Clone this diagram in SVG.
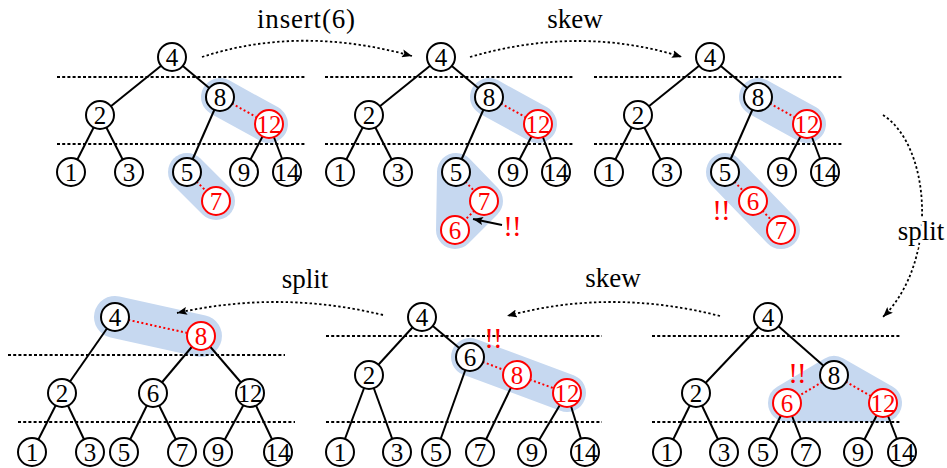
<svg xmlns="http://www.w3.org/2000/svg" width="947" height="468" viewBox="0 0 947 468" font-family="Liberation Serif, DejaVu Serif, serif">
<defs>
<style>
.node circle{fill:#fff;stroke:#000;stroke-width:2}
.node text{font-size:25px;text-anchor:middle;fill:#000}
.node.red circle{stroke:#f00}
.node.red text{fill:#f00}
.edge{stroke:#000;stroke-width:2;fill:none}
.redge{stroke:#f00;stroke-width:2;stroke-dasharray:2 2.5;fill:none}
.level{stroke:#000;stroke-width:2;stroke-dasharray:3 2.2;fill:none}
.hl{stroke:#c6d8f0;fill:#c6d8f0;stroke-width:38;stroke-linecap:round;stroke-linejoin:round}
.flow{stroke:#000;stroke-width:1.8;stroke-dasharray:2.4 2.4;fill:none;marker-end:url(#arr)}
.label{font-size:27px;text-anchor:middle;fill:#000}
.bang{font-size:29px;text-anchor:middle;fill:#f00;letter-spacing:-1px}
</style>
<marker id="arr" markerUnits="userSpaceOnUse" markerWidth="11" markerHeight="8" refX="10" refY="4" orient="auto">
<path d="M0,0 L10,4 L0,8 L2,4 z" fill="#000"/>
</marker>
</defs>
<rect width="947" height="468" fill="#fff"/>

<g id="highlights">
<line class="hl" x1="220" y1="97" x2="269" y2="124"/>
<line class="hl" x1="187" y1="172" x2="216" y2="201"/>
<line class="hl" x1="489" y1="97" x2="538" y2="124"/>
<polygon class="hl" points="456,172 484,201 455,230"/>
<line class="hl" x1="758" y1="97" x2="807" y2="124"/>
<line class="hl" x1="725" y1="172" x2="781" y2="230"/>
<line class="hl" x1="115" y1="317" x2="201" y2="336" style="stroke-width:42"/>
<line class="hl" x1="470" y1="357" x2="567" y2="393"/>
<polygon class="hl" points="787,403 834,375 883,403"/>
</g>

<g id="levels">
<line class="level" x1="57" y1="77" x2="305" y2="77"/>
<line class="level" x1="57" y1="144" x2="305" y2="144"/>
<line class="level" x1="325" y1="77" x2="573" y2="77"/>
<line class="level" x1="325" y1="144" x2="573" y2="144"/>
<line class="level" x1="594" y1="77" x2="842" y2="77"/>
<line class="level" x1="594" y1="144" x2="842" y2="144"/>
<line class="level" x1="8" y1="355" x2="285" y2="355"/>
<line class="level" x1="18" y1="422" x2="295" y2="422"/>
<line class="level" x1="326" y1="336" x2="602" y2="336"/>
<line class="level" x1="326" y1="422" x2="602" y2="422"/>
<line class="level" x1="652" y1="336" x2="900" y2="336"/>
<line class="level" x1="652" y1="422" x2="900" y2="422"/>
</g>

<g id="connectors">
<line class="edge" x1="172" y1="57" x2="100" y2="115"/>
<line class="edge" x1="172" y1="57" x2="220" y2="97"/>
<line class="edge" x1="100" y1="115" x2="71" y2="172"/>
<line class="edge" x1="100" y1="115" x2="129" y2="172"/>
<line class="edge" x1="220" y1="97" x2="187" y2="172"/>
<line class="redge" x1="220" y1="97" x2="269" y2="124"/>
<line class="edge" x1="269" y1="124" x2="244" y2="172"/>
<line class="edge" x1="269" y1="124" x2="287" y2="172"/>
<line class="redge" x1="187" y1="172" x2="216" y2="201"/>
<line class="edge" x1="441" y1="57" x2="369" y2="115"/>
<line class="edge" x1="441" y1="57" x2="489" y2="97"/>
<line class="edge" x1="369" y1="115" x2="340" y2="172"/>
<line class="edge" x1="369" y1="115" x2="398" y2="172"/>
<line class="edge" x1="489" y1="97" x2="456" y2="172"/>
<line class="redge" x1="489" y1="97" x2="538" y2="124"/>
<line class="edge" x1="538" y1="124" x2="513" y2="172"/>
<line class="edge" x1="538" y1="124" x2="556" y2="172"/>
<line class="redge" x1="456" y1="172" x2="484" y2="201"/>
<line class="redge" x1="484" y1="201" x2="455" y2="230"/>
<line class="edge" x1="710" y1="57" x2="638" y2="115"/>
<line class="edge" x1="710" y1="57" x2="758" y2="97"/>
<line class="edge" x1="638" y1="115" x2="609" y2="172"/>
<line class="edge" x1="638" y1="115" x2="667" y2="172"/>
<line class="edge" x1="758" y1="97" x2="725" y2="172"/>
<line class="redge" x1="758" y1="97" x2="807" y2="124"/>
<line class="edge" x1="807" y1="124" x2="782" y2="172"/>
<line class="edge" x1="807" y1="124" x2="825" y2="172"/>
<line class="redge" x1="725" y1="172" x2="753" y2="201"/>
<line class="redge" x1="753" y1="201" x2="781" y2="230"/>
<line class="redge" x1="115" y1="317" x2="201" y2="336"/>
<line class="edge" x1="115" y1="317" x2="62" y2="393"/>
<line class="edge" x1="201" y1="336" x2="153" y2="393"/>
<line class="edge" x1="201" y1="336" x2="250" y2="393"/>
<line class="edge" x1="62" y1="393" x2="32" y2="452"/>
<line class="edge" x1="62" y1="393" x2="90" y2="452"/>
<line class="edge" x1="153" y1="393" x2="124" y2="452"/>
<line class="edge" x1="153" y1="393" x2="182" y2="452"/>
<line class="edge" x1="250" y1="393" x2="218" y2="452"/>
<line class="edge" x1="250" y1="393" x2="278" y2="452"/>
<line class="edge" x1="422" y1="317" x2="369" y2="375"/>
<line class="edge" x1="422" y1="317" x2="470" y2="357"/>
<line class="edge" x1="369" y1="375" x2="340" y2="452"/>
<line class="edge" x1="369" y1="375" x2="397" y2="452"/>
<line class="edge" x1="470" y1="357" x2="436" y2="452"/>
<line class="redge" x1="470" y1="357" x2="517" y2="375"/>
<line class="edge" x1="517" y1="375" x2="480" y2="452"/>
<line class="redge" x1="517" y1="375" x2="567" y2="393"/>
<line class="edge" x1="567" y1="393" x2="532" y2="452"/>
<line class="edge" x1="567" y1="393" x2="585" y2="452"/>
<line class="edge" x1="768" y1="317" x2="696" y2="393"/>
<line class="edge" x1="768" y1="317" x2="834" y2="375"/>
<line class="edge" x1="696" y1="393" x2="667" y2="452"/>
<line class="edge" x1="696" y1="393" x2="724" y2="452"/>
<line class="redge" x1="834" y1="375" x2="787" y2="403"/>
<line class="redge" x1="834" y1="375" x2="883" y2="403"/>
<line class="edge" x1="787" y1="403" x2="763" y2="452"/>
<line class="edge" x1="787" y1="403" x2="806" y2="452"/>
<line class="edge" x1="883" y1="403" x2="858" y2="452"/>
<line class="edge" x1="883" y1="403" x2="902" y2="452"/>
<path class="flow" d="M202,57 Q300,25 412,56"/>
<path class="flow" d="M470,57 Q580,25 682,57"/>
<path class="flow" d="M883,115 C930,145 940,260 883,317"/>
<path class="flow" d="M720,316 Q610,288 507,316"/>
<path class="flow" d="M383,315 Q280,290 177,313"/>
<line x1="502" y1="225" x2="473" y2="219" stroke="#000" stroke-width="2" marker-end="url(#arr)"/>
</g>

<g id="p1-n4" class="node"><circle cx="172" cy="57" r="14"/><text x="172" y="66">4</text></g>
<g id="p1-n2" class="node"><circle cx="100" cy="115" r="14"/><text x="100" y="124">2</text></g>
<g id="p1-n8" class="node"><circle cx="220" cy="97" r="14"/><text x="220" y="106">8</text></g>
<g id="p1-n12" class="node red"><circle cx="269" cy="124" r="14"/><text x="269" y="133">12</text></g>
<g id="p1-n1" class="node"><circle cx="71" cy="172" r="14"/><text x="71" y="181">1</text></g>
<g id="p1-n3" class="node"><circle cx="129" cy="172" r="14"/><text x="129" y="181">3</text></g>
<g id="p1-n5" class="node"><circle cx="187" cy="172" r="14"/><text x="187" y="181">5</text></g>
<g id="p1-n9" class="node"><circle cx="244" cy="172" r="14"/><text x="244" y="181">9</text></g>
<g id="p1-n14" class="node"><circle cx="287" cy="172" r="14"/><text x="287" y="181">14</text></g>
<g id="p1-n7" class="node red"><circle cx="216" cy="201" r="14"/><text x="216" y="210">7</text></g>

<g id="p2-n4" class="node"><circle cx="441" cy="57" r="14"/><text x="441" y="66">4</text></g>
<g id="p2-n2" class="node"><circle cx="369" cy="115" r="14"/><text x="369" y="124">2</text></g>
<g id="p2-n8" class="node"><circle cx="489" cy="97" r="14"/><text x="489" y="106">8</text></g>
<g id="p2-n12" class="node red"><circle cx="538" cy="124" r="14"/><text x="538" y="133">12</text></g>
<g id="p2-n1" class="node"><circle cx="340" cy="172" r="14"/><text x="340" y="181">1</text></g>
<g id="p2-n3" class="node"><circle cx="398" cy="172" r="14"/><text x="398" y="181">3</text></g>
<g id="p2-n5" class="node"><circle cx="456" cy="172" r="14"/><text x="456" y="181">5</text></g>
<g id="p2-n9" class="node"><circle cx="513" cy="172" r="14"/><text x="513" y="181">9</text></g>
<g id="p2-n14" class="node"><circle cx="556" cy="172" r="14"/><text x="556" y="181">14</text></g>
<g id="p2-n7" class="node red"><circle cx="484" cy="201" r="14"/><text x="484" y="210">7</text></g>
<g id="p2-n6" class="node red"><circle cx="455" cy="230" r="14"/><text x="455" y="239">6</text></g>

<g id="p3-n4" class="node"><circle cx="710" cy="57" r="14"/><text x="710" y="66">4</text></g>
<g id="p3-n2" class="node"><circle cx="638" cy="115" r="14"/><text x="638" y="124">2</text></g>
<g id="p3-n8" class="node"><circle cx="758" cy="97" r="14"/><text x="758" y="106">8</text></g>
<g id="p3-n12" class="node red"><circle cx="807" cy="124" r="14"/><text x="807" y="133">12</text></g>
<g id="p3-n1" class="node"><circle cx="609" cy="172" r="14"/><text x="609" y="181">1</text></g>
<g id="p3-n3" class="node"><circle cx="667" cy="172" r="14"/><text x="667" y="181">3</text></g>
<g id="p3-n5" class="node"><circle cx="725" cy="172" r="14"/><text x="725" y="181">5</text></g>
<g id="p3-n9" class="node"><circle cx="782" cy="172" r="14"/><text x="782" y="181">9</text></g>
<g id="p3-n14" class="node"><circle cx="825" cy="172" r="14"/><text x="825" y="181">14</text></g>
<g id="p3-n6" class="node red"><circle cx="753" cy="201" r="14"/><text x="753" y="210">6</text></g>
<g id="p3-n7" class="node red"><circle cx="781" cy="230" r="14"/><text x="781" y="239">7</text></g>

<g id="p4-n4" class="node"><circle cx="115" cy="317" r="14"/><text x="115" y="326">4</text></g>
<g id="p4-n8" class="node red"><circle cx="201" cy="336" r="14"/><text x="201" y="345">8</text></g>
<g id="p4-n2" class="node"><circle cx="62" cy="393" r="14"/><text x="62" y="402">2</text></g>
<g id="p4-n6" class="node"><circle cx="153" cy="393" r="14"/><text x="153" y="402">6</text></g>
<g id="p4-n12" class="node"><circle cx="250" cy="393" r="14"/><text x="250" y="402">12</text></g>
<g id="p4-n1" class="node"><circle cx="32" cy="452" r="14"/><text x="32" y="461">1</text></g>
<g id="p4-n3" class="node"><circle cx="90" cy="452" r="14"/><text x="90" y="461">3</text></g>
<g id="p4-n5" class="node"><circle cx="124" cy="452" r="14"/><text x="124" y="461">5</text></g>
<g id="p4-n7" class="node"><circle cx="182" cy="452" r="14"/><text x="182" y="461">7</text></g>
<g id="p4-n9" class="node"><circle cx="218" cy="452" r="14"/><text x="218" y="461">9</text></g>
<g id="p4-n14" class="node"><circle cx="278" cy="452" r="14"/><text x="278" y="461">14</text></g>

<g id="p5-n4" class="node"><circle cx="422" cy="317" r="14"/><text x="422" y="326">4</text></g>
<g id="p5-n2" class="node"><circle cx="369" cy="375" r="14"/><text x="369" y="384">2</text></g>
<g id="p5-n6" class="node"><circle cx="470" cy="357" r="14"/><text x="470" y="366">6</text></g>
<g id="p5-n8" class="node red"><circle cx="517" cy="375" r="14"/><text x="517" y="384">8</text></g>
<g id="p5-n12" class="node red"><circle cx="567" cy="393" r="14"/><text x="567" y="402">12</text></g>
<g id="p5-n1" class="node"><circle cx="340" cy="452" r="14"/><text x="340" y="461">1</text></g>
<g id="p5-n3" class="node"><circle cx="397" cy="452" r="14"/><text x="397" y="461">3</text></g>
<g id="p5-n5" class="node"><circle cx="436" cy="452" r="14"/><text x="436" y="461">5</text></g>
<g id="p5-n7" class="node"><circle cx="480" cy="452" r="14"/><text x="480" y="461">7</text></g>
<g id="p5-n9" class="node"><circle cx="532" cy="452" r="14"/><text x="532" y="461">9</text></g>
<g id="p5-n14" class="node"><circle cx="585" cy="452" r="14"/><text x="585" y="461">14</text></g>

<g id="p6-n4" class="node"><circle cx="768" cy="317" r="14"/><text x="768" y="326">4</text></g>
<g id="p6-n2" class="node"><circle cx="696" cy="393" r="14"/><text x="696" y="402">2</text></g>
<g id="p6-n8" class="node"><circle cx="834" cy="375" r="14"/><text x="834" y="384">8</text></g>
<g id="p6-n6" class="node red"><circle cx="787" cy="403" r="14"/><text x="787" y="412">6</text></g>
<g id="p6-n12" class="node red"><circle cx="883" cy="403" r="14"/><text x="883" y="412">12</text></g>
<g id="p6-n1" class="node"><circle cx="667" cy="452" r="14"/><text x="667" y="461">1</text></g>
<g id="p6-n3" class="node"><circle cx="724" cy="452" r="14"/><text x="724" y="461">3</text></g>
<g id="p6-n5" class="node"><circle cx="763" cy="452" r="14"/><text x="763" y="461">5</text></g>
<g id="p6-n7" class="node"><circle cx="806" cy="452" r="14"/><text x="806" y="461">7</text></g>
<g id="p6-n9" class="node"><circle cx="858" cy="452" r="14"/><text x="858" y="461">9</text></g>
<g id="p6-n14" class="node"><circle cx="902" cy="452" r="14"/><text x="902" y="461">14</text></g>

<g id="labels">
<text class="label" x="306" y="28" textLength="98">insert(6)</text>
<text class="label" x="575" y="28">skew</text>
<text class="label" x="921" y="240" stroke="#fff" stroke-width="6" paint-order="stroke">split</text>
<text class="label" x="613" y="287">skew</text>
<text class="label" x="305" y="288">split</text>
<text class="bang" x="512" y="236">!!</text>
<text class="bang" x="721" y="220">!!</text>
<text class="bang" x="493" y="348">!!</text>
<text class="bang" x="797" y="383">!!</text>
</g>
</svg>
